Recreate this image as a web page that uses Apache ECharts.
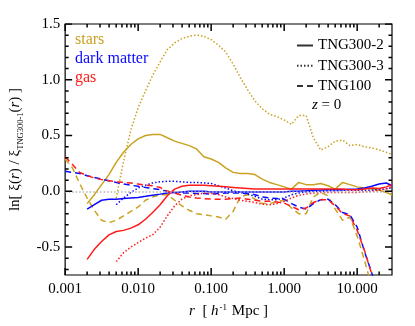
<!DOCTYPE html>
<html>
<head>
<meta charset="utf-8">
<script src="https://cdn.jsdelivr.net/npm/echarts@6/dist/echarts.min.js"></script>
<style>
  html, body { margin: 0; padding: 0; background: #fff; }
  #main { width: 415px; height: 326px; }
</style>
</head>
<body>
<div id="main"></div>
<script>
// r [h^-1 Mpc], shared sampling of all curves
var rGrid = [0.00100, 0.00126, 0.00158, 0.00200, 0.00251, 0.00316, 0.00398, 0.00501, 0.00631, 0.00794,
             0.0100, 0.0126, 0.0158, 0.0200, 0.0251, 0.0316, 0.0398, 0.0501, 0.0631, 0.0794,
             0.100, 0.126, 0.158, 0.200, 0.251, 0.316, 0.398, 0.501, 0.631, 0.794,
             1.00, 1.26, 1.58, 2.00, 2.51, 3.16, 3.98, 5.01, 6.31, 7.94,
             10.0, 12.6, 15.8, 20.0, 25.1, 30.0];

// stars
var starsSolid = [null, null, null, -0.11, -0.03, 0.06, 0.15, 0.26, 0.35, 0.42,
                  0.47, 0.50, 0.51, 0.51, 0.48, 0.45, 0.43, 0.41, 0.38, 0.31,
                  0.29, 0.26, 0.21, 0.17, 0.16, 0.16, 0.15, 0.11, 0.08, 0.06,
                  0.04, 0.02, 0.08, 0.06, 0.06, 0.07, 0.05, 0.02, 0.08, 0.06,
                  0.04, 0.03, 0.02, 0.01, -0.01, -0.03];
var starsDotted = [null, null, null, null, null, null, null, -0.06, 0.27, 0.55,
                   0.75, 0.90, 1.04, 1.16, 1.27, 1.33, 1.37, 1.39, 1.40, 1.39,
                   1.36, 1.31, 1.25, 1.14, 1.02, 0.91, 0.81, 0.74, 0.69, 0.67,
                   0.64, 0.60, 0.68, 0.68, 0.48, 0.37, 0.40, 0.45, 0.46, 0.41,
                   0.42, 0.40, 0.39, 0.37, 0.35, 0.33];
var starsDashed = [0.29, 0.21, 0.07, -0.06, -0.17, -0.26, -0.28, -0.26, -0.22, -0.18,
                   -0.14, -0.08, -0.05, -0.03, -0.03, -0.08, -0.13, -0.17, -0.20, -0.21,
                   -0.22, -0.23, -0.25, -0.18, -0.05, -0.03, -0.07, -0.11, -0.11, -0.09,
                   -0.08, -0.15, -0.20, -0.20, -0.05, -0.01, -0.04, -0.16, -0.26, -0.23,
                   -0.40, -0.62, -0.85, null, null, null];

// dark matter
var dmSolid = [null, null, null, -0.16, -0.12, -0.08, -0.07, -0.07, -0.065, -0.06,
               -0.055, -0.045, -0.035, -0.025, -0.015, -0.01, -0.005, 0.0, 0.0, 0.0,
               -0.005, -0.005, -0.005, -0.005, -0.005, -0.005, -0.005, -0.005, -0.005, -0.005,
               -0.005, 0.0, 0.0, 0.005, 0.01, 0.012, 0.015, 0.015, 0.015, 0.018,
               0.02, 0.03, 0.045, 0.065, 0.075, 0.05];
var dmDotted = [null, null, null, null, null, null, null, -0.12, -0.06, -0.01,
                0.03, 0.055, 0.075, 0.085, 0.09, 0.09, 0.085, 0.08, 0.08, 0.075,
                0.07, 0.05, 0.03, 0.005, -0.01, -0.025, -0.045, -0.07, -0.075, -0.075,
                -0.06, -0.03, -0.015, -0.005, 0.0, 0.0, 0.005, 0.005, 0.01, 0.01,
                0.01, 0.01, 0.01, 0.015, 0.025, 0.03];
var dmDashed = [0.18, 0.17, 0.16, 0.14, 0.125, 0.11, 0.095, 0.08, 0.065, 0.055,
                0.045, 0.035, 0.025, 0.015, 0.0, -0.01, -0.015, -0.015, -0.02, -0.02,
                -0.025, -0.02, -0.015, -0.015, -0.015, -0.02, -0.03, -0.05, -0.06, -0.065,
                -0.07, -0.11, -0.14, -0.16, -0.11, -0.075, -0.07, -0.12, -0.19, -0.21,
                -0.32, -0.54, -0.73, -0.95, null, null];

// gas
var gasSolid = [null, null, null, -0.61, -0.52, -0.45, -0.39, -0.36, -0.35, -0.33,
                -0.30, -0.25, -0.19, -0.12, -0.04, 0.02, 0.045, 0.055, 0.055, 0.055,
                0.05, 0.045, 0.04, 0.035, 0.03, 0.025, 0.02, 0.02, 0.02, 0.02,
                0.02, 0.02, 0.02, 0.02, 0.02, 0.02, 0.02, 0.02, 0.02, 0.015,
                0.015, 0.02, 0.03, 0.025, 0.04, 0.06];
var gasDotted = [null, null, null, null, null, null, null, -0.63, -0.55, -0.50,
                 -0.46, -0.42, -0.39, -0.32, -0.22, -0.13, -0.07, -0.04, -0.03, -0.015,
                 -0.02, -0.03, -0.05, -0.065, -0.08, -0.09, -0.10, -0.115, -0.12, -0.11,
                 -0.09, -0.06, -0.035, -0.025, -0.015, -0.01, -0.01, -0.01, -0.01, -0.01,
                 -0.01, -0.005, 0.0, 0.01, 0.02, 0.045];
var gasDashed = [0.31, 0.24, 0.17, 0.14, 0.12, 0.105, 0.095, 0.085, 0.08, 0.075,
                 0.065, 0.055, 0.05, 0.035, 0.0, -0.015, -0.035, -0.05, -0.06, -0.065,
                 -0.07, -0.07, -0.07, -0.065, -0.06, -0.07, -0.08, -0.09, -0.09, -0.095,
                 -0.105, -0.135, -0.165, -0.15, -0.10, -0.075, -0.075, -0.13, -0.20, -0.22,
                 -0.35, -0.53, -0.74, -0.95, null, null];

// ticks
var xMajorTicks = [0.001, 0.01, 0.1, 1, 10];
var xMinorTicks = [0.002, 0.003, 0.004, 0.005, 0.006, 0.007, 0.008, 0.009,
                   0.02, 0.03, 0.04, 0.05, 0.06, 0.07, 0.08, 0.09,
                   0.2, 0.3, 0.4, 0.5, 0.6, 0.7, 0.8, 0.9,
                   2, 3, 4, 5, 6, 7, 8, 9, 20];
var yMajorTicks = [-0.5, 0, 0.5, 1.0, 1.5];
var yMinorTicks = [-0.7, -0.6, -0.4, -0.3, -0.2, -0.1, 0.1, 0.2, 0.3, 0.4,
                   0.6, 0.7, 0.8, 0.9, 1.1, 1.2, 1.3, 1.4];

var runNames = ['TNG300-2', 'TNG300-3', 'TNG100'];

var X_MIN = 0.001, X_MAX = 30, Y_MIN = -0.75, Y_MAX = 1.5;
var GOLD = '#c9a21f', BLUE = '#0a0aff', RED = '#ff1a1a';
var SERIF = '"Liberation Serif", "DejaVu Serif", serif';
var DOT = [1.5, 2], DASH = [6, 4];

var myChart = echarts.init(document.getElementById('main'));

function pairs(vals) {
    return rGrid.map(function (r, i) { return [r, vals[i]]; });
}
function curve(name, vals, color, dash) {
    return {
        type: 'line', name: name, data: pairs(vals),
        symbol: 'none', showSymbol: false, silent: true,
        lineStyle: { color: color, width: 1.5, type: dash },
        itemStyle: { color: color }
    };
}

var series = [
    {
        type: 'line', name: 'zero', data: [], silent: true, symbol: 'none',
        markLine: {
            silent: true, symbol: 'none', label: { show: false },
            lineStyle: { color: '#b4b4b4', width: 1.5, type: DOT },
            data: [{ yAxis: 0 }]
        }
    },
    curve('stars TNG300-2', starsSolid, GOLD, 'solid'),
    curve('stars TNG300-3', starsDotted, GOLD, DOT),
    curve('stars TNG100', starsDashed, GOLD, DASH),
    curve('dm TNG300-2', dmSolid, BLUE, 'solid'),
    curve('dm TNG300-3', dmDotted, BLUE, DOT),
    curve('dm TNG100', dmDashed, BLUE, DASH),
    curve('gas TNG300-2', gasSolid, RED, 'solid'),
    curve('gas TNG300-3', gasDotted, RED, DOT),
    curve('gas TNG100', gasDashed, RED, DASH)
];
// black entries for the run legend
var legendDash = ['solid', DOT, DASH];
runNames.forEach(function (n, i) {
    series.push({
        type: 'line', name: n, data: [], symbol: 'none', showSymbol: false, silent: true,
        lineStyle: { color: '#333', width: 1.5, type: legendDash[i] },
        itemStyle: { color: '#333' }
    });
});

var option = {
    animation: false,
    grid: { left: 55, right: 23, top: 24, bottom: 51, show: true, borderColor: '#000', borderWidth: 1.2, backgroundColor: 'transparent' },
    legend: {
        data: runNames, orient: 'vertical', left: 291, top: 33,
        itemWidth: 16, itemHeight: 14, itemGap: 5.3, selectedMode: false,
        itemStyle: { opacity: 0 },
        textStyle: { fontFamily: SERIF, fontSize: 15, color: '#000' }
    },
    xAxis: {
        type: 'log', logBase: 10, min: X_MIN, max: X_MAX,
        axisLine: { show: false, onZero: false },
        axisTick: { show: false },
        splitLine: { show: false },
        axisLabel: {
            customValues: xMajorTicks, margin: 7,
            fontFamily: SERIF, fontSize: 15, color: '#000',
            formatter: function (v) { return Number(v).toFixed(3); }
        },
        name: '{i|r}{a|  [ }{i|h}{p|-1}{a| Mpc ]}',
        nameLocation: 'middle', nameGap: 22,
        nameTextStyle: {
            fontFamily: SERIF, fontSize: 15, color: '#000',
            rich: {
                a: { fontFamily: SERIF, fontSize: 15, color: '#000', lineHeight: 18 },
                i: { fontFamily: SERIF, fontSize: 15, fontStyle: 'italic', color: '#000', lineHeight: 18 },
                p: { fontFamily: SERIF, fontSize: 9, color: '#000', verticalAlign: 'top', lineHeight: 9, padding: [1, 1, 0, 1] }
            }
        }
    },
    yAxis: {
        type: 'value', min: Y_MIN, max: Y_MAX,
        axisLine: { show: false, onZero: false },
        axisTick: { show: false },
        splitLine: { show: false },
        axisLabel: {
            customValues: yMajorTicks, margin: 5,
            fontFamily: SERIF, fontSize: 15, color: '#000',
            formatter: function (v) { return Number(v).toFixed(1); }
        },
        name: '{a|ln[ ξ(}{i|r}{a|) / ξ}{s|TNG300-1}{a|(}{i|r}{a|) ]}',
        nameLocation: 'middle', nameRotate: 90, nameGap: 33,
        nameTextStyle: {
            fontFamily: SERIF, fontSize: 15, color: '#000',
            rich: {
                a: { fontFamily: SERIF, fontSize: 15, color: '#000', lineHeight: 20 },
                i: { fontFamily: SERIF, fontSize: 15, fontStyle: 'italic', color: '#000', lineHeight: 20 },
                s: { fontFamily: SERIF, fontSize: 8.5, color: '#000', verticalAlign: 'bottom', lineHeight: 9 }
            }
        }
    },
    graphic: [
        { type: 'text', x: 75, y: 40, style: { text: 'stars', fill: GOLD, font: '16px ' + SERIF, verticalAlign: 'middle' } },
        { type: 'text', x: 75, y: 59, style: { text: 'dark matter', fill: BLUE, font: '16px ' + SERIF, verticalAlign: 'middle' } },
        { type: 'text', x: 75, y: 78, style: { text: 'gas', fill: RED, font: '16px ' + SERIF, verticalAlign: 'middle' } },
        { type: 'text', x: 312, y: 105, style: { text: '{i|z}{a| = 0}', verticalAlign: 'middle',
            rich: { i: { fontFamily: SERIF, fontSize: 15, fontStyle: 'italic', fill: '#000' },
                    a: { fontFamily: SERIF, fontSize: 15, fill: '#000' } } } }
    ],
    series: series
};

myChart.setOption(option);

// inward tick marks on all four sides: short segments whose length in pixels
// is turned into data units through the chart's own axis scales
var pxPerY = Math.abs(myChart.convertToPixel({ yAxisIndex: 0 }, 0) - myChart.convertToPixel({ yAxisIndex: 0 }, 1));
var pxPerDex = Math.abs(myChart.convertToPixel({ xAxisIndex: 0 }, 10) - myChart.convertToPixel({ xAxisIndex: 0 }, 1));

function xTicks(values, len) {
    var dy = len / pxPerY, data = [];
    values.forEach(function (v) {
        data.push([v, Y_MIN], [v, Y_MIN + dy], [v, null], [v, Y_MAX], [v, Y_MAX - dy], [v, null]);
    });
    return data;
}
function yTicks(values, len) {
    var f = Math.pow(10, len / pxPerDex), data = [];
    values.forEach(function (v) {
        data.push([X_MIN, v], [X_MIN * f, v], [X_MIN, null], [X_MAX, v], [X_MAX / f, v], [X_MAX, null]);
    });
    return data;
}
function tickLine(data) {
    return {
        type: 'line', data: data, symbol: 'none', showSymbol: false, silent: true,
        connectNulls: false, z: 5, lineStyle: { color: '#000', width: 1.5 }
    };
}

myChart.setOption({
    series: series.concat([
        tickLine(xTicks(xMajorTicks, 7)),
        tickLine(xTicks(xMinorTicks, 3.5)),
        tickLine(yTicks(yMajorTicks, 7)),
        tickLine(yTicks(yMinorTicks, 3.5))
    ])
});
</script>
</body>
</html>
